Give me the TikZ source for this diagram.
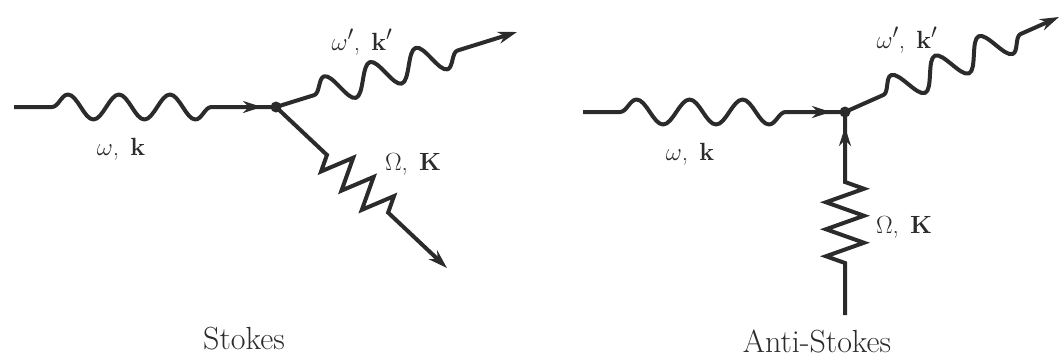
\documentclass[tikz,border=0pt]{standalone}
\usetikzlibrary{decorations.pathmorphing,decorations.markings,arrows.meta}
\definecolor{ink}{gray}{0.17}
\tikzset{
  line/.style={draw=ink, line width=4pt, line join=round},
  head/.style={-{Stealth[length=19pt,width=12pt,inset=6pt]}},
  headat/.style={postaction={decorate, decoration={markings,
      pre length=0pt, post length=0pt,
      mark=at position #1 with {\arrow{Stealth[length=19pt,width=12pt,inset=6pt]}}}}},
  photon/.style args={#1/#2/#3/#4}{decorate, decoration={snake,
      amplitude=#1, segment length=#2, pre length=#3, post length=#4}},
  phonon/.style args={#1/#2/#3/#4}{line join=miter, decorate, decoration={zigzag,
      amplitude=#1, segment length=#2, pre length=#3, post length=#4}},
  vertex/.style={circle, fill=ink, inner sep=0pt, minimum size=11pt},
  lbl/.style={text=ink, font=\Huge, anchor=base, inner sep=0pt},
  caption/.style={text=ink, font=\fontsize{32}{36}\selectfont, anchor=base, inner sep=0pt},
}
\begin{document}
\begin{tikzpicture}[x=1pt, y=-1pt]
\useasboundingbox (0,0) rectangle (1061,362);

% ---------- Stokes scattering ----------
\coordinate (s-in)  at (14,107);
\coordinate (s-v)   at (276,107);
\coordinate (s-out) at (517,32);
\coordinate (s-ph)  at (447,268);

\draw[line, photon=12.5pt/51pt/38pt/56pt, headat=-14pt] (s-in) -- (s-v);
\draw[line, photon=15pt/48pt/40pt/53pt, head] (s-v) -- (s-out);
\draw[line, phonon=16pt/28pt/70pt/80pt, decoration={mirror}, head] (s-v) -- (s-ph);
\node[vertex] (s-dot) at (s-v) {};

\node[lbl] (s-lin)  at (121,155) {$\omega$,\hspace{0.45em}$\mathbf{k}$};
\node[lbl] (s-lout) at (362,50)  {$\omega'$,\hspace{0.45em}$\mathbf{k}'$};
\node[lbl] (s-lph)  at (413,170) {$\Omega$,\hspace{0.45em}$\mathbf{K}$};
\node[caption] (s-cap) at (244,349) {Stokes};

% ---------- Anti-Stokes scattering ----------
\coordinate (a-in)  at (583,112);
\coordinate (a-v)   at (845,112);
\coordinate (a-out) at (1059,17);
\coordinate (a-ph)  at (845,315);

\draw[line, photon=12.5pt/53pt/37pt/50pt, headat=-14pt] (a-in) -- (a-v);
\draw[line, photon=15pt/48pt/42pt/33pt, head] (a-v) -- (a-out);
\draw[line, phonon=19pt/27pt/52pt/69pt, headat=-15pt] (a-ph) -- (a-v);
\node[vertex] (a-dot) at (a-v) {};

\node[lbl] (a-lin)  at (690,160) {$\omega$,\hspace{0.45em}$\mathbf{k}$};
\node[lbl] (a-lout) at (907,48)  {$\omega'$,\hspace{0.45em}$\mathbf{k}'$};
\node[lbl] (a-lph)  at (904,233) {$\Omega$,\hspace{0.45em}$\mathbf{K}$};
\node[caption] (a-cap) at (817,352) {Anti-Stokes};
\end{tikzpicture}
\end{document}
